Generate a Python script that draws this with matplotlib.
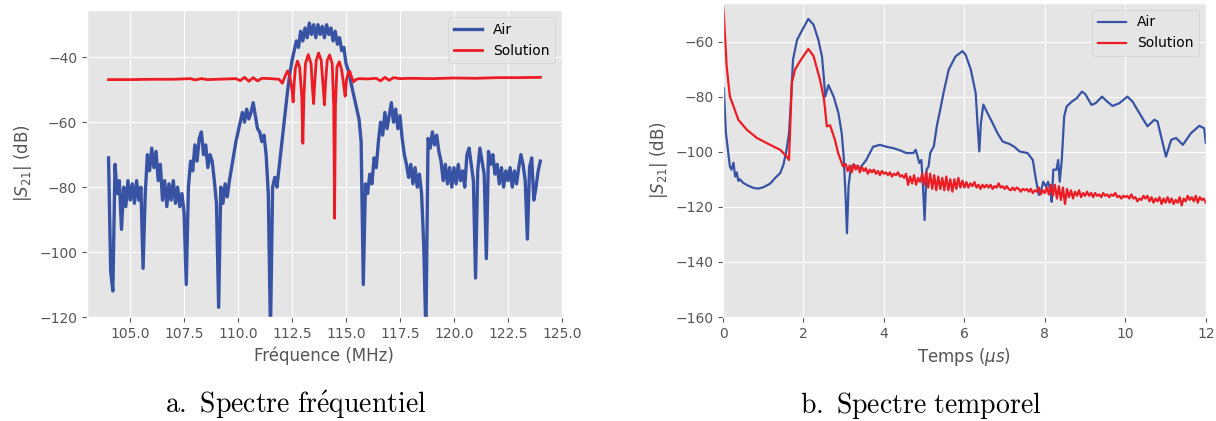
import numpy as np
import matplotlib
matplotlib.use("Agg")
from matplotlib import pyplot as plt
from matplotlib.ticker import MultipleLocator

# --- frequency spectrum (left) ---
freq_air = np.round(np.arange(104.0, 124.05, 0.1), 1)
air_freq = [
    -71, -106, -112, -73, -82, -78, -93, -80, -86, -78,
    -84, -79, -85, -78, -84, -80, -105, -82, -70, -75,
    -68, -74, -69, -78, -73, -84, -78, -86, -79, -84,
    -78, -85, -80, -86, -82, -88, -110, -80, -72, -75,
    -67, -72, -65, -63, -70, -67, -74, -70, -72, -78,
    -85, -117, -80, -85, -79, -83, -78, -74, -70, -66,
    -63, -60, -57, -60, -56, -59, -57, -54, -58, -62,
    -63, -66, -64, -70, -82, -125, -80, -77, -80, -74,
    -68, -62, -56, -50, -45, -41, -38, -35, -37, -32,
    -35, -31, -34, -29.5, -33, -30, -34, -30, -33, -30.5,
    -34, -30, -33, -31, -35, -32, -36, -34, -38, -37,
    -42, -44, -47, -50, -53, -56, -59, -66, -110, -79,
    -82, -76, -79, -71, -74, -66, -60, -64, -57, -62,
    -58, -54, -60, -56, -62, -58, -65, -70, -73, -77,
    -73, -79, -74, -80, -76, -82, -98, -125, -65, -68,
    -63, -67, -64, -69, -72, -78, -73, -79, -74, -80,
    -74, -79, -73, -78, -75, -80, -70, -68, -73, -78,
    -108, -75, -68, -72, -76, -102, -69, -73, -70, -76,
    -73, -79, -74, -80, -75, -78, -74, -80, -75, -79,
    -74, -70, -73, -78, -96, -74, -71, -84, -80, -75,
    -72,
]

freq_sol = [
    104.0, 105.0, 106.0, 107.0, 107.8, 108.0, 108.3, 108.6, 109.0, 109.5,
    109.9, 110.1, 110.3, 110.5, 110.7, 110.9, 111.1, 111.5, 111.9, 112.05,
    112.2, 112.3, 112.4, 112.5, 112.55, 112.6, 112.65, 112.75, 112.85, 112.95,
    113.0, 113.05, 113.12, 113.25, 113.38, 113.45, 113.5, 113.55, 113.62, 113.73,
    113.85, 113.95, 114.0, 114.05, 114.13, 114.24, 114.36, 114.43, 114.47, 114.51,
    114.58, 114.69, 114.8, 114.9, 114.96, 115.02, 115.1, 115.17, 115.25, 115.35,
    115.45, 115.6, 116.0, 116.4, 116.6, 116.8, 117.0, 117.2, 117.5, 118.0,
    119.0, 120.0, 121.0, 122.0, 123.0, 124.0,
]
sol_freq = [
    -46.9, -46.9, -46.8, -46.8, -46.6, -47.0, -46.6, -46.9, -46.8, -46.7,
    -46.6, -47.2, -46.2, -47.4, -46.3, -47.3, -46.5, -46.6, -46.8, -48.0,
    -45.5, -44.2, -46.0, -50.0, -53.8, -48.0, -43.5, -41.2, -43.0, -52.0,
    -66.5, -52.0, -42.0, -39.2, -42.0, -50.0, -54.3, -48.0, -41.0, -38.7,
    -41.0, -50.0, -54.7, -48.0, -41.0, -39.3, -42.0, -55.0, -89.6, -55.0,
    -43.0, -41.4, -44.0, -49.0, -52.0, -47.0, -44.8, -44.3, -46.0, -47.6,
    -46.9, -46.6, -46.7, -46.5, -47.3, -46.2, -47.1, -46.3, -46.6, -46.5,
    -46.6, -46.4, -46.5, -46.3, -46.3, -46.2,
]

# --- time response (right) ---
time_air = [
    0.0, 0.02, 0.07, 0.13, 0.17, 0.21, 0.26, 0.30, 0.34, 0.38,
    0.42, 0.50, 0.62, 0.75, 0.87, 1.0, 1.17, 1.33, 1.42, 1.50,
    1.58, 1.64, 1.69, 1.74, 1.84, 1.97, 2.12, 2.25, 2.37, 2.46,
    2.51, 2.54, 2.62, 2.75, 2.87, 2.95, 3.0, 3.05, 3.08, 3.12,
    3.17, 3.23, 3.31, 3.40, 3.56, 3.73, 3.90, 4.06, 4.23, 4.40,
    4.56, 4.73, 4.79, 4.88, 4.93, 4.97, 5.01, 5.06, 5.11, 5.15,
    5.24, 5.32, 5.40, 5.48, 5.61, 5.78, 5.95, 6.03, 6.16, 6.28,
    6.32, 6.37, 6.41, 6.47, 6.53, 6.70, 6.82, 6.95, 7.12, 7.24,
    7.37, 7.57, 7.70, 7.78, 7.85, 7.90, 7.96, 8.03, 8.08, 8.13,
    8.17, 8.21, 8.29, 8.33, 8.37, 8.42, 8.48, 8.54, 8.67, 8.79,
    8.92, 9.0, 9.16, 9.26, 9.42, 9.55, 9.68, 9.85, 10.05, 10.18,
    10.35, 10.55, 10.72, 10.80, 10.91, 11.01, 11.14, 11.26, 11.43, 11.63,
    11.84, 11.96, 12.0,
]
air_time = [
    -78, -76.8, -93, -100.4, -105.3, -106.5, -104, -109, -107.5, -110.6,
    -110, -111.3, -112.3, -113.1, -113.4, -112.9, -111.6, -109, -107.8, -104.8,
    -99.3, -93.3, -81, -66.5, -59.4, -55.8, -51.8, -53.9, -59.4, -65.5,
    -73.9, -80, -75.8, -80, -86.1, -93.3, -101.8, -117.5, -129.6, -112.6,
    -106.5, -104.8, -105.3, -106, -103, -98.2, -97.5, -98.2, -98.7, -99.5,
    -100.5, -100.5, -99.3, -104.1, -103, -112.7, -124.8, -106.5, -105.3, -100.5,
    -98, -90.2, -84.7, -78.7, -70.2, -65.4, -63.5, -64.8, -70.2, -78.7,
    -88.4, -99.9, -89.6, -82.9, -84.7, -89.6, -93.2, -96.3, -97.2, -98.2,
    -99.9, -100.5, -103, -110.3, -115.7, -114.5, -110.9, -112.7, -110.9, -113.9,
    -118.2, -106.5, -106.5, -103, -110.9, -103, -87.2, -83.6, -81.8, -80.6,
    -78.2, -79, -83, -82.4, -80, -81.8, -83.4, -82.4, -80, -81.8,
    -86, -90.8, -88.4, -89, -95.7, -101.8, -95.7, -95, -97.5, -93.3,
    -90.6, -91.5, -96.8,
]

time_sol_head = [
    0.0, 0.02, 0.09, 0.17, 0.26, 0.38, 0.59, 0.84, 1.17, 1.42,
    1.58, 1.64, 1.71, 1.79, 1.91, 2.12, 2.25, 2.41, 2.51, 2.58,
    2.66, 2.78, 2.86, 2.98,
]
sol_time_head = [
    -47, -50, -69, -80, -83.5, -88.4, -92, -95, -97.5, -99.3,
    -101.7, -103, -75, -70.2, -67.2, -62.7, -65.3, -73.8, -81, -90.8,
    -90.4, -95.6, -100.4, -105.3,
]
# noisy tail, one value every 0.05 us from 3.05 to 12.0
sol_time_tail = [
    -104.5, -107, -105, -107.5, -104.5, -106.5, -105, -107.5, -105.5, -107,
    -106, -108, -106.5, -107.5, -106.5, -108, -107, -108.5, -107, -108,
    -107.5, -108.5, -107.5, -109, -108, -108.5, -107.5, -109, -108.5, -109.5,
    -108, -112, -109, -111.5, -108.5, -112, -109.5, -111, -108, -112,
    -107.5, -113, -108, -113.5, -108.5, -114, -109, -113.5, -109.5, -114,
    -109, -114, -110, -114.5, -110, -113.5, -109.5, -113, -110.5, -113,
    -111, -113, -111.5, -112.5, -111, -113, -112, -113.5, -112, -113,
    -112, -113, -112, -113.5, -112.5, -113, -111.5, -113, -112.5, -113.5,
    -112.5, -113.5, -114, -113, -114, -113, -113.5, -114.5, -113.5, -114,
    -113.5, -114.5, -113.5, -115, -114, -114.5, -113, -115.5, -114, -115,
    -113, -115.5, -112, -116, -112, -117, -112.5, -117.5, -113, -119,
    -113.5, -116.5, -114, -117, -114.5, -116, -114, -116.5, -115, -116,
    -114.5, -116, -115, -116.5, -115, -116, -115.5, -116.5, -115, -116,
    -115.5, -116.5, -115.5, -116, -115, -116.5, -116, -117, -116, -116.5,
    -116, -117, -115.5, -117, -116.5, -118, -117, -117.5, -116, -117,
    -116, -118, -116.5, -118.5, -117, -118, -116.5, -119, -117, -118.5,
    -116.5, -118.5, -117, -119, -117.5, -118.5, -116.5, -119.5, -117, -118,
    -116, -117.5, -116.5, -118, -116, -118.5, -116.5, -117.5, -117, -118.5,
]
time_sol = time_sol_head + [round(3.05 + 0.05 * i, 2) for i in range(len(sol_time_tail))]
sol_time = sol_time_head + sol_time_tail

blue = "#3953a4"
red = "#ed1c24"

plt.style.use("ggplot")
fig = plt.figure(figsize=(12.16, 4.21), dpi=100)

ax1 = fig.add_axes([0.0715, 0.247, 0.3906, 0.729])
ax1.plot(freq_air, air_freq, color=blue, lw=2.4, label="Air")
ax1.plot(freq_sol, sol_freq, color=red, lw=2, label="Solution")
ax1.set_xlim(103, 125)
ax1.set_ylim(-120, -25.5)
ax1.xaxis.set_major_locator(MultipleLocator(2.5))
ax1.yaxis.set_major_locator(MultipleLocator(20))
ax1.set_xlabel("Fréquence (MHz)", fontsize=12)
ax1.set_ylabel(r"$|S_{21}|$ (dB)", fontsize=12)
ax1.legend(loc="upper right", fontsize=10)

ax2 = fig.add_axes([0.5946, 0.247, 0.397, 0.746])
ax2.plot(time_air, air_time, color=blue, lw=1.6, label="Air")
ax2.plot(time_sol, sol_time, color=red, lw=1.6, label="Solution")
ax2.set_xlim(0, 12)
ax2.set_ylim(-160, -46)
ax2.xaxis.set_major_locator(MultipleLocator(2))
ax2.yaxis.set_major_locator(MultipleLocator(20))
ax2.set_xlabel(r"Temps ($\mu s$)", fontsize=12)
ax2.set_ylabel(r"$|S_{21}|$ (dB)", fontsize=12)
ax2.legend(loc="upper right", fontsize=10)

fig.text(0.243, 0.038, r"$\mathrm{a.\ Spectre\ fr\acute{e}quentiel}$", ha="center", va="center",
         fontsize=20, color="black", math_fontfamily="cm")
fig.text(0.757, 0.038, r"$\mathrm{b.\ Spectre\ temporel}$", ha="center", va="center",
         fontsize=20, color="black", math_fontfamily="cm")

fig.savefig("out.png", dpi=100, facecolor="white")
